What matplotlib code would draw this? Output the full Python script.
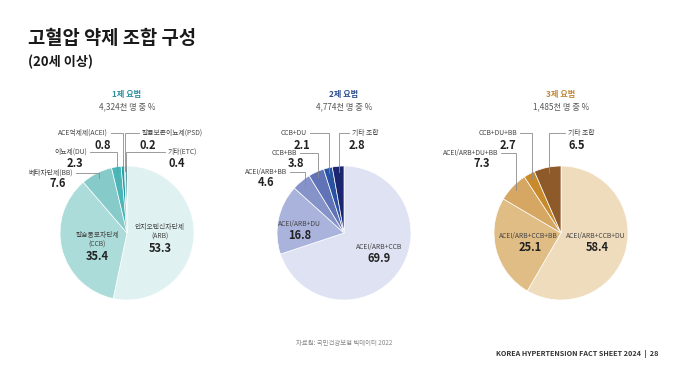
import numpy as np
import matplotlib
matplotlib.use("Agg")
import matplotlib.pyplot as plt

plt.rcParams['font.family'] = ['Noto Sans CJK KR', 'DejaVu Sans']

# ---- data ----
mono_labels = ['안지오텐신차단제\n(ARB)', '칼슘통로차단제\n(CCB)', '베타차단제(BB)', '이뇨제(DU)',
               'ACE억제제(ACEI)', '칼륨보존이뇨제(PSD)', '기타(ETC)']
mono_values = [53.3, 35.4, 7.6, 2.3, 0.8, 0.2, 0.4]

dual_labels = ['ACEI/ARB+CCB', 'ACEI/ARB+DU', 'ACEI/ARB+BB', 'CCB+BB', 'CCB+DU', '기타 조합']
dual_values = [69.9, 16.8, 4.6, 3.8, 2.1, 2.8]

triple_labels = ['ACEI/ARB+CCB+DU', 'ACEI/ARB+CCB+BB', 'ACEI/ARB+DU+BB', 'CCB+DU+BB', '기타 조합']
triple_values = [58.4, 25.1, 7.3, 2.7, 6.5]

panel_titles = ['1제 요법', '2제 요법', '3제 요법']
panel_subtitles = ['4,324천 명 중 %', '4,774천 명 중 %', '1,485천 명 중 %']

# ---- styles / layout (pixel coords, y down) ----
mono_colors = ['#dff1f1', '#acdcd9', '#86cbca', '#4cb5b8', '#23a0a8', '#17899a', '#0d6a76']
dual_colors = ['#dfe2f2', '#aab3dc', '#8593c9', '#6073b6', '#2a52a2', '#1c2670']
triple_colors = ['#efdcbc', '#e0bd85', '#d6a663', '#c98a2b', '#8e5a2a']
title_colors = ['#2f8f9d', '#2d4f8f', '#c0893a']

# ('in', name_x, name_y, val_x, val_y) or ('left'/'right', text_x, text_y, val_x, val_y)
mono_layout = [('in', 160, 232, 160, 248), ('in', 97, 240, 97, 256),
               ('left', 73, 173, 58, 183), ('left', 87, 152, 75, 163),
               ('left', 108, 133, 103, 145), ('right', 142, 133, 148, 145),
               ('right', 168, 152, 177, 163)]
dual_layout = [('in', 379, 247, 379, 258), ('in', 299, 224, 300, 235),
               ('left', 287, 172, 266, 182), ('left', 297, 153, 296, 163),
               ('left', 307, 133, 302, 145), ('right', 352, 133, 357, 145)]
triple_layout = [('in', 596, 236, 597, 247), ('in', 528, 236, 530, 247),
                 ('left', 498, 153, 482, 163), ('left', 517, 133, 508, 145),
                 ('right', 568, 133, 577, 145)]

centers = [(127, 233), (344, 233), (561, 233)]
radius = 67
small = 4.9
big = 8.0

fig = plt.figure(figsize=(6.8, 3.74), dpi=100)
ax = fig.add_axes([0, 0, 1, 1])

panels = [(mono_labels, mono_values, mono_colors, mono_layout),
          (dual_labels, dual_values, dual_colors, dual_layout),
          (triple_labels, triple_values, triple_colors, triple_layout)]

for i, (labels, values, colors, layout) in enumerate(panels):
    cx, cy = centers[i]
    # y axis is inverted later, so counterclock in data = clockwise on screen
    ax.pie(values, colors=colors, startangle=-90, counterclock=True,
           center=(cx, cy), radius=radius,
           wedgeprops=dict(edgecolor='white', linewidth=0.5))

    ax.text(cx, 94, panel_titles[i], ha='center', va='center', fontsize=5.9,
            fontweight='bold', color=title_colors[i])
    ax.text(cx, 107, panel_subtitles[i], ha='center', va='center', fontsize=5.9,
            color='#555555')

    total = sum(values)
    cum = np.cumsum([0] + list(values))
    for j, lab in enumerate(labels):
        kind, tx, ty, vx, vy = layout[j]
        val = f"{values[j]:.1f}"
        if kind == 'in':
            ax.text(tx, ty, lab, ha='center', va='center', fontsize=small,
                    color='#444444', linespacing=1.35)
            ax.text(vx, vy, val, ha='center', va='center', fontsize=big,
                    fontweight='bold', color='#222222')
            continue
        mid = (cum[j] + values[j] / 2) / total
        ang = np.radians(-90 + 360 * mid)
        px = cx + 0.92 * radius * np.cos(ang)
        py = cy + 0.92 * radius * np.sin(ang)
        if kind == 'left':
            ax.text(tx, ty, lab, ha='right', va='center', fontsize=small, color='#444444')
            x0 = tx + 3
        else:
            ax.text(tx, ty, lab, ha='left', va='center', fontsize=small, color='#444444')
            x0 = tx - 3
        ax.plot([x0, px, px], [ty, ty, py], color='#8a8a8a', lw=0.6,
                solid_joinstyle='miter', zorder=3)
        ax.text(vx, vy, val, ha='center', va='center', fontsize=big,
                fontweight='bold', color='#222222')

# titles
ax.text(28, 38, '고혈압 약제 조합 구성', ha='left', va='center', fontsize=13.5,
        fontweight='bold', color='#1a1a1a')
ax.text(28, 62, '(20세 이상)', ha='left', va='center', fontsize=9.5,
        fontweight='bold', color='#1a1a1a')

# footer
ax.text(344, 343, '자료원: 국민건강보험 빅데이터 2022', ha='center', va='center',
        fontsize=4.6, color='#888888')
ax.text(658, 354, 'KOREA HYPERTENSION FACT SHEET 2024  |  28', ha='right', va='center',
        fontsize=5.2, fontweight='bold', color='#333333')

ax.set_xlim(0, 680)
ax.set_ylim(374, 0)
ax.set_aspect('equal')
ax.axis('off')

fig.savefig('out.png', dpi=100, facecolor='white')
